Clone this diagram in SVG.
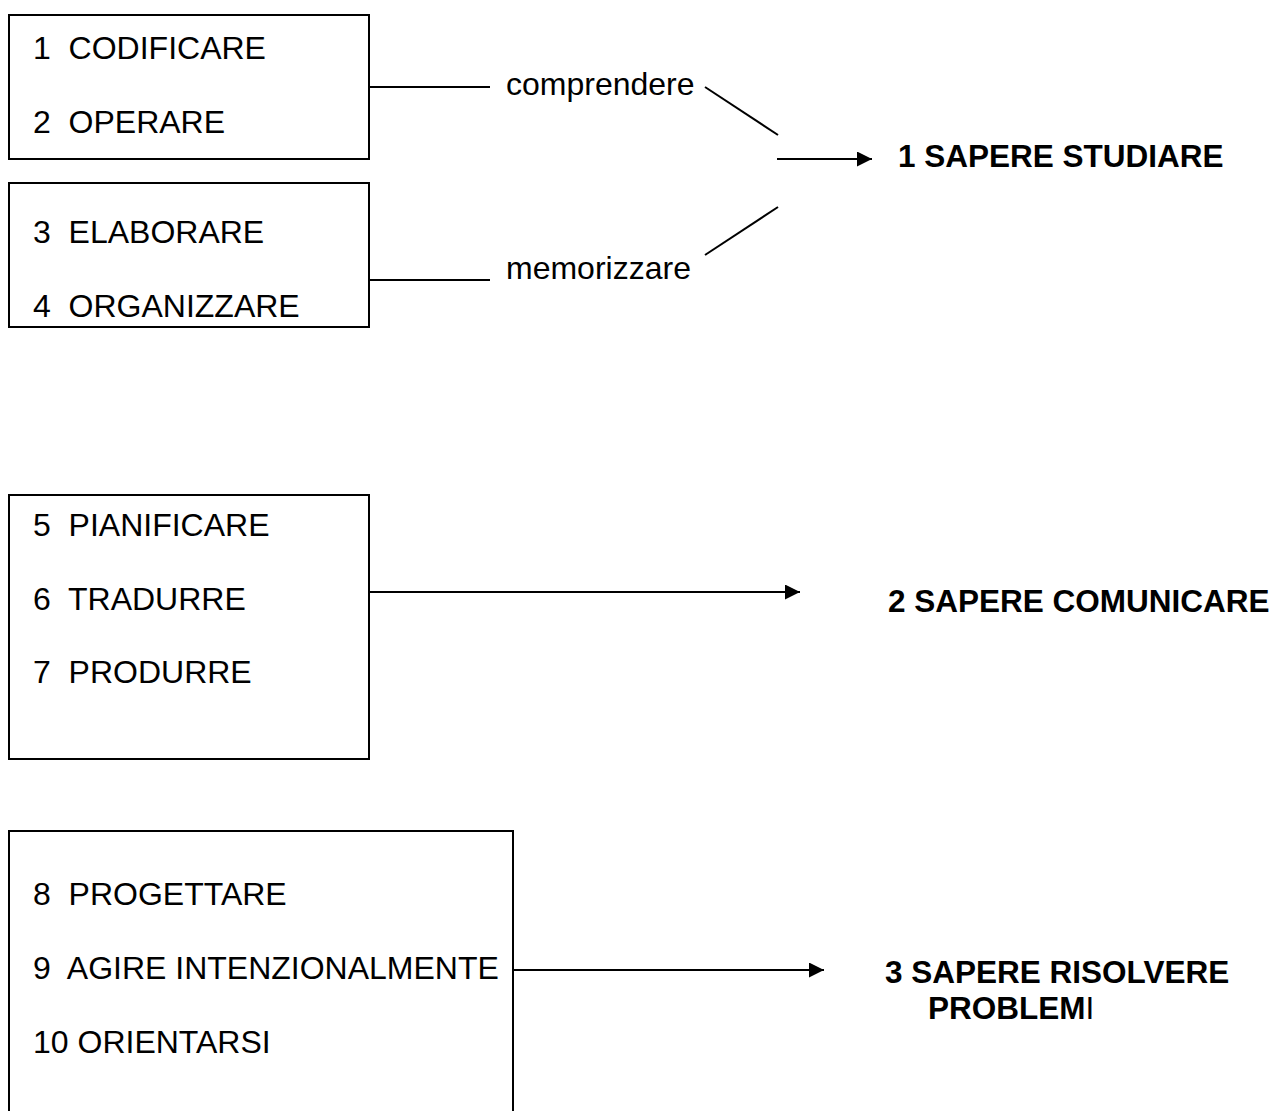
<svg xmlns="http://www.w3.org/2000/svg" width="1277" height="1111" viewBox="0 0 1277 1111">
<defs>
<style>
.box{fill:none;stroke:#000;stroke-width:2}
.t{font-family:"Liberation Sans",Arial,sans-serif;font-size:32px;fill:#000;white-space:pre}
.b{font-family:"Liberation Sans",Arial,sans-serif;font-size:31.5px;font-weight:bold;fill:#000;white-space:pre}
.c{fill:none;stroke:#000;stroke-width:2}
</style>
<marker id="ah" viewBox="0 0 10 10" refX="10" refY="5" markerWidth="8" markerHeight="7.5" markerUnits="strokeWidth" orient="auto">
<path d="M0,0 L10,5 L0,10 z" fill="#000"/>
</marker>
</defs>
<rect width="1277" height="1111" fill="#fff"/>
<g id="box1">
<rect class="box" x="9" y="15" width="360" height="144"/>
<text class="t" x="33" y="59" xml:space="preserve">1  CODIFICARE</text>
<text class="t" x="33" y="133" xml:space="preserve">2  OPERARE</text>
</g>
<g id="box2">
<rect class="box" x="9" y="183" width="360" height="144"/>
<text class="t" x="33" y="243" xml:space="preserve">3  ELABORARE</text>
<text class="t" x="33" y="317" xml:space="preserve">4  ORGANIZZARE</text>
</g>
<g id="box3">
<rect class="box" x="9" y="495" width="360" height="264"/>
<text class="t" x="33" y="536" xml:space="preserve">5  PIANIFICARE</text>
<text class="t" x="33" y="610" xml:space="preserve">6  TRADURRE</text>
<text class="t" x="33" y="683" xml:space="preserve">7  PRODURRE</text>
</g>
<g id="box4">
<path class="box" d="M9,1112 V831 H513 V1112"/>
<text class="t" x="33" y="905" xml:space="preserve">8  PROGETTARE</text>
<text class="t" x="33" y="979" xml:space="preserve">9  AGIRE INTENZIONALMENTE</text>
<text class="t" x="33" y="1053" xml:space="preserve">10 ORIENTARSI</text>
</g>
<g id="labels">
<text class="t" x="506" y="95">comprendere</text>
<text class="t" x="506" y="279">memorizzare</text>
</g>
<g id="goal1">
<text class="b" x="898" y="167">1 SAPERE STUDIARE</text>
</g>
<g id="goal2">
<text class="b" x="888" y="612">2 SAPERE COMUNICARE</text>
</g>
<g id="goal3">
<text class="b" x="885" y="983">3 SAPERE RISOLVERE</text>
<text class="b" x="928" y="1019">PROBLEM<tspan font-weight="normal">I</tspan></text>
</g>
<g id="connectors">
<line class="c" x1="369" y1="87" x2="490" y2="87"/>
<line class="c" x1="369" y1="280" x2="490" y2="280"/>
<line class="c" x1="705" y1="87" x2="778" y2="135"/>
<line class="c" x1="705" y1="255" x2="778" y2="207"/>
<line class="c" x1="777" y1="159" x2="872" y2="159" marker-end="url(#ah)"/>
<line class="c" x1="369" y1="592" x2="800" y2="592" marker-end="url(#ah)"/>
<line class="c" x1="513" y1="970" x2="824" y2="970" marker-end="url(#ah)"/>
</g>
</svg>
